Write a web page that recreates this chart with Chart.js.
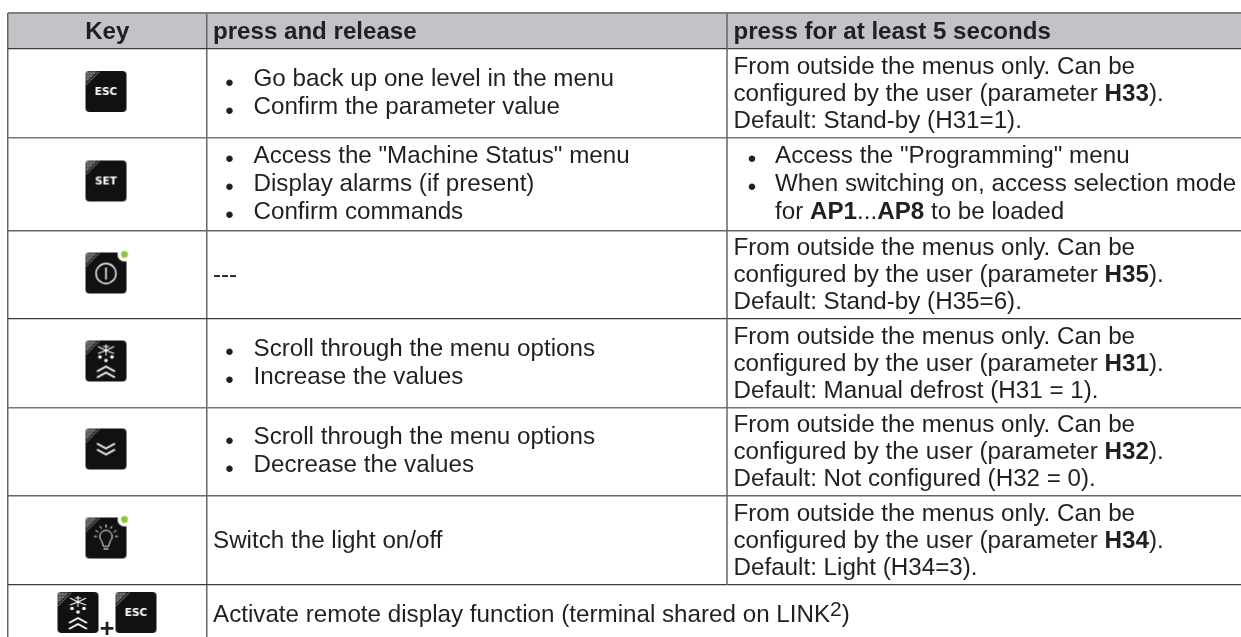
<!DOCTYPE html>
<html>
<head>
<meta charset="utf-8">
<title>Key functions</title>
<style>
  html, body { margin: 0; padding: 0; background: #fff; }
  canvas { display: block; }
</style>
<script src="https://cdn.jsdelivr.net/npm/chart.js@4"></script>
</head>
<body>
<canvas id="keyTable" width="1241" height="637"></canvas>
<script>
// Table content
const headers = ["Key", "press and release", "press for at least 5 seconds"];
const keys = [["ESC"], ["SET"], ["POWER"], ["UP"], ["DOWN"], ["LIGHT"], ["UP", "ESC"]];
const pressRelease = [
    ["• Go back up one level in the menu", "• Confirm the parameter value"],
    ["• Access the \"Machine Status\" menu", "• Display alarms (if present)", "• Confirm commands"],
    ["---"],
    ["• Scroll through the menu options", "• Increase the values"],
    ["• Scroll through the menu options", "• Decrease the values"],
    ["Switch the light on/off"],
    ["Activate remote display function (terminal shared on LINK^2^)"]
];
const pressHold = [
    ["From outside the menus only. Can be", "configured by the user (parameter **H33**).", "Default: Stand-by (H31=1)."],
    ["• Access the \"Programming\" menu", "• When switching on, access selection mode", "~for **AP1**...**AP8** to be loaded"],
    ["From outside the menus only. Can be", "configured by the user (parameter **H35**).", "Default: Stand-by (H35=6)."],
    ["From outside the menus only. Can be", "configured by the user (parameter **H31**).", "Default: Manual defrost (H31 = 1)."],
    ["From outside the menus only. Can be", "configured by the user (parameter **H32**).", "Default: Not configured (H32 = 0)."],
    ["From outside the menus only. Can be", "configured by the user (parameter **H34**).", "Default: Light (H34=3)."],
    []
];

// Table grid
const columnEdges = [8, 206.5, 727, 1241];
const rowEdges = [13, 49, 138, 230.5, 319, 407.5, 496, 585, 637];
const rowLineColors = ["#808080", "#3c3c3c", "#777777", "#666666", "#3c3c3c", "#777777", "#666666", "#3c3c3c", "#666666"];
const rowLineWidths = [2, 1.2, 1.5, 1.5, 1.2, 1.5, 1.5, 1.2, 0];
const keyCentres = [91.5, 181, 273, 361, 449, 538];

const textFont = '"Liberation Sans", Arial, sans-serif';
const textSize = 24.2;
const headSize = 24.1;
const textColor = "#231f20";

// Keypad icons are drawn once and handed to the scatter points as pointStyle
function makeKeyIcon(name) {
    const size = 47, off = 3, side = 41;
    const c = document.createElement("canvas");
    c.width = size; c.height = size;
    const g = c.getContext("2d");
    const hasLed = name === "POWER" || name === "LIGHT";

    g.fillStyle = "#111111";
    g.beginPath();
    g.roundRect(off, off, side, side, 4);
    g.fill();

    // speckled corner
    g.fillStyle = "#8a8a8a";
    for (let i = 0; i < 15; i += 1.5) {
        for (let j = 0; j < 15 - i; j += 1.5) {
            if ((Math.round(i / 1.5) + Math.round(j / 1.5)) % 2 === 0 || i + j < 9) {
                g.fillRect(off + i + 0.5, off + j + 0.5, 1.3, 1.3);
            }
        }
    }

    const cx = off + side / 2;
    g.strokeStyle = "#ffffff";
    g.fillStyle = "#ffffff";
    g.lineCap = "butt";

    if (name === "ESC" || name === "SET") {
        g.font = 'bold 10.5px "DejaVu Sans", sans-serif';
        g.textAlign = "center";
        g.textBaseline = "middle";
        g.fillText(name, cx, off + 21.5);
    }
    if (name === "POWER") {
        g.lineWidth = 1.4;
        g.beginPath();
        g.arc(cx, off + 21, 10, 0, Math.PI * 2);
        g.stroke();
        g.lineWidth = 1.5;
        g.beginPath();
        g.moveTo(cx, off + 15);
        g.lineTo(cx, off + 27);
        g.stroke();
    }
    if (name === "UP") {
        g.lineWidth = 1.1;
        [[-8, 6], [8, 6], [-8, 13], [8, 13]].forEach(p => {
            g.beginPath();
            g.moveTo(cx, off + 10);
            g.lineTo(cx + p[0], off + p[1]);
            g.stroke();
        });
        g.beginPath();
        g.moveTo(cx, off + 4);
        g.lineTo(cx, off + 15);
        g.moveTo(cx - 3, off + 6);
        g.lineTo(cx + 3, off + 6);
        g.stroke();
        [[-6, 16.5], [6, 16.5], [0, 20]].forEach(p => {
            g.beginPath();
            g.arc(cx + p[0], off + p[1], 1.8, 0, Math.PI * 2);
            g.fill();
        });
        g.lineWidth = 1.9;
        [26, 32].forEach(y => {
            g.beginPath();
            g.moveTo(cx - 9, off + y + 5);
            g.lineTo(cx, off + y);
            g.lineTo(cx + 9, off + y + 5);
            g.stroke();
        });
    }
    if (name === "DOWN") {
        g.lineWidth = 1.9;
        [15, 21].forEach(y => {
            g.beginPath();
            g.moveTo(cx - 9, off + y);
            g.lineTo(cx, off + y + 5);
            g.lineTo(cx + 9, off + y);
            g.stroke();
        });
    }
    if (name === "LIGHT") {
        g.lineWidth = 1;
        g.beginPath();
        g.arc(cx, off + 19, 6.2, Math.PI * 0.75, Math.PI * 0.25);
        g.lineTo(cx + 2.5, off + 29);
        g.lineTo(cx - 2.5, off + 29);
        g.closePath();
        g.stroke();
        g.fillRect(cx - 2.5, off + 31, 5, 1);
        for (let k = 0; k < 7; k++) {
            const a = Math.PI + k * Math.PI / 6;
            g.beginPath();
            g.moveTo(cx + Math.cos(a) * 9, off + 19 + Math.sin(a) * 9);
            g.lineTo(cx + Math.cos(a) * 12, off + 19 + Math.sin(a) * 12);
            g.stroke();
        }
    }
    if (hasLed) {
        g.fillStyle = "#ffffff";
        g.beginPath();
        g.arc(off + side - 2, off + 2, 7, 0, Math.PI * 2);
        g.fill();
        g.fillStyle = "#8cc63f";
        g.beginPath();
        g.arc(off + side - 2, off + 2, 3.4, 0, Math.PI * 2);
        g.fill();
    }
    return c;
}

// Writes one line made of plain, **bold** and ^raised^ runs, starting at x
function drawRuns(ctx, line, x, y) {
    line.split(/(\*\*.*?\*\*|\^.*?\^)/).filter(Boolean).forEach(run => {
        let txt = run, weight = "", dy = 0, size = textSize;
        if (run.startsWith("**")) { txt = run.slice(2, -2); weight = "bold "; }
        if (run.startsWith("^")) { txt = run.slice(1, -1); dy = -6; size = 21; }
        ctx.font = weight + size + "px " + textFont;
        ctx.fillText(txt, x, y + dy);
        x += ctx.measureText(txt).width;
    });
}

// Writes a cell, centred vertically around the row middle
function drawCell(ctx, lines, left, bulletAt, textAt, yMid) {
    const isList = lines.length > 0 && lines[0].startsWith("•");
    const step = isList ? 28 : 26.8;
    const top = yMid - (lines.length - 1) * step / 2 + (isList ? 6.6 : 7.5);
    lines.forEach((line, i) => {
        const y = top + i * step;
        if (line.startsWith("• ")) {
            ctx.font = textSize + "px " + textFont;
            ctx.textAlign = "center";
            ctx.fillText("•", left + bulletAt, y + 4.5);
            ctx.textAlign = "left";
            drawRuns(ctx, line.slice(2), left + textAt, y);
        } else if (line.startsWith("~")) {
            drawRuns(ctx, line.slice(1), left + textAt, y);
        } else {
            drawRuns(ctx, line, left + 6.5, y);
        }
    });
}

const tablePlugin = {
    id: "tablePlugin",
    beforeDraw(chart) {
        const { ctx, scales: { x, y } } = chart;
        ctx.save();
        ctx.fillStyle = "#c1c3c7";
        ctx.fillRect(x.left, y.getPixelForValue(rowEdges[0]), x.right - x.left, y.getPixelForValue(rowEdges[1]) - y.getPixelForValue(rowEdges[0]));
        ctx.restore();
    },
    afterDatasetsDraw(chart) {
        const { ctx, scales: { x, y } } = chart;
        ctx.save();
        ctx.fillStyle = textColor;
        ctx.textBaseline = "alphabetic";

        const headY = y.getPixelForValue(rowEdges[1]) - 10.5;
        ctx.font = "bold " + headSize + "px " + textFont;
        ctx.textAlign = "center";
        ctx.fillText(headers[0], (x.getPixelForValue(columnEdges[0]) + x.getPixelForValue(columnEdges[1])) / 2, headY);
        ctx.textAlign = "left";
        ctx.fillText(headers[1], x.getPixelForValue(columnEdges[1]) + 6.5, headY);
        ctx.fillText(headers[2], x.getPixelForValue(columnEdges[2]) + 6.5, headY);

        pressRelease.forEach((lines, i) => {
            // the last row is cut by the page edge, so its text sits below the visible middle
            const shift = i === pressRelease.length - 1 ? 3 : 0;
            const mid = (y.getPixelForValue(rowEdges[i + 1]) + y.getPixelForValue(rowEdges[i + 2])) / 2 + shift;
            drawCell(ctx, lines, x.getPixelForValue(columnEdges[1]), 23, 47, mid);
            drawCell(ctx, pressHold[i], x.getPixelForValue(columnEdges[2]), 25, 48, mid);
        });

        // the plus between the two keys of the last row
        ctx.font = "bold 25px " + textFont;
        ctx.textAlign = "center";
        ctx.fillText("+", x.getPixelForValue(107), y.getPixelForValue(636.5));
        ctx.restore();
    }
};

const iconPoints = [];
keys.forEach((group, i) => {
    if (group.length === 1) {
        iconPoints.push({ x: 106, y: keyCentres[i], key: group[0] });
    } else {
        iconPoints.push({ x: 78, y: 612.5, key: group[0] });
        iconPoints.push({ x: 136, y: 612.5, key: group[1] });
    }
});
const iconCache = {};
iconPoints.forEach(p => {
    if (!iconCache[p.key]) iconCache[p.key] = makeKeyIcon(p.key);
});

// The third column line stops above the last row, whose text spans two columns
const thirdColumnLine = [
    { x: columnEdges[2], y: rowEdges[0] },
    { x: columnEdges[2], y: rowEdges[rowEdges.length - 2] }
];

new Chart(document.getElementById("keyTable"), {
    type: "scatter",
    data: {
        datasets: [{
            data: thirdColumnLine,
            showLine: true,
            borderColor: "#666666",
            borderWidth: 1.5,
            pointRadius: 0
        }, {
            data: iconPoints,
            pointStyle: ctx => iconCache[iconPoints[ctx.dataIndex].key],
            pointRadius: 20,
            clip: false
        }]
    },
    options: {
        responsive: false,
        animation: false,
        events: [],
        layout: { autoPadding: false, padding: { left: columnEdges[0], top: rowEdges[0], right: 0, bottom: 0 } },
        plugins: { legend: { display: false }, tooltip: { enabled: false } },
        scales: {
            x: {
                type: "linear",
                min: columnEdges[0],
                max: columnEdges[columnEdges.length - 1],
                border: { display: false },
                ticks: { display: false },
                grid: {
                    drawTicks: false,
                    color: "#666666",
                    lineWidth: 1.5
                },
                afterBuildTicks: s => { s.ticks = columnEdges.slice(0, 2).map(v => ({ value: v })); }
            },
            y: {
                type: "linear",
                reverse: true,
                min: rowEdges[0],
                max: rowEdges[rowEdges.length - 1],
                border: { display: false },
                ticks: { display: false },
                grid: {
                    drawTicks: false,
                    color: c => rowLineColors[c.index],
                    lineWidth: c => rowLineWidths[c.index]
                },
                afterBuildTicks: s => { s.ticks = rowEdges.map(v => ({ value: v })); }
            }
        }
    },
    plugins: [tablePlugin]
});
</script>
</body>
</html>
